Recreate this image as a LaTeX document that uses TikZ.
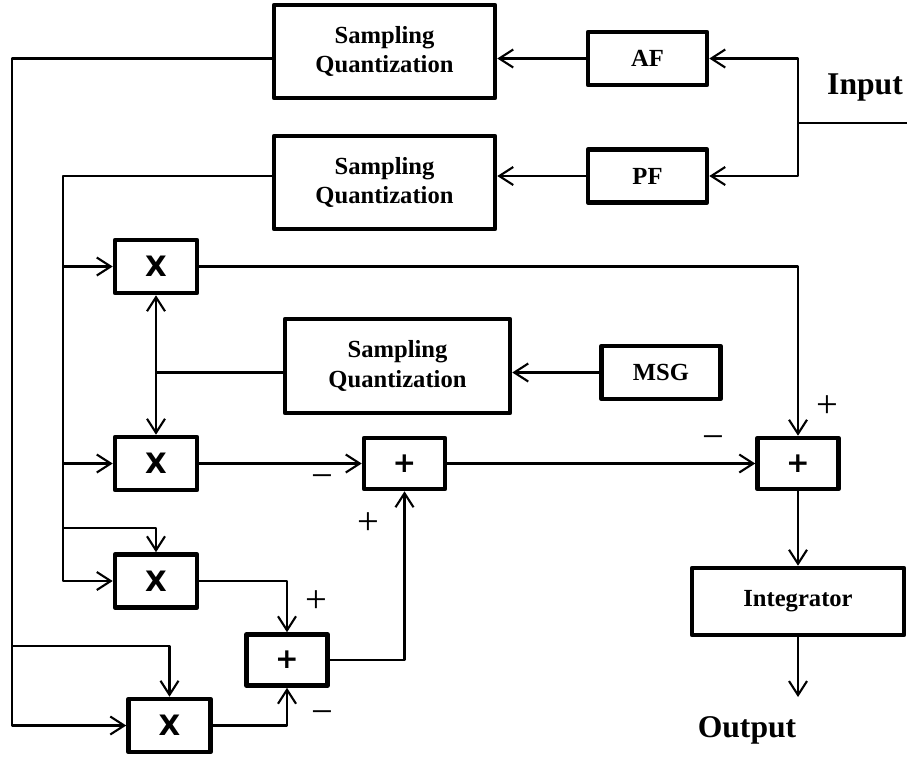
\documentclass[tikz,border=0pt]{standalone}
\usepackage{fontspec}
\setmainfont{Liberation Serif}
\newfontfamily\opfont{DejaVu Sans}
\usetikzlibrary{arrows.meta,positioning}

\begin{document}
\begin{tikzpicture}[node distance=2cm, on grid, >={Straight Barb[length=2.8mm,width=3.6mm]},
                      line width=1.2pt, line join=round, text centered]
    \tikzstyle{block} = [rectangle, draw=black, line width=2.6pt, inner sep=0pt,
                         font=\fontsize{14}{17}\selectfont\bfseries, align=center]
    \tikzstyle{sampler} = [block, minimum width=4.42cm, minimum height=1.86cm]
    \tikzstyle{filter} = [block, minimum width=2.38cm, minimum height=1.06cm]
    \tikzstyle{mult} = [block, minimum width=1.64cm, minimum height=1.06cm,
                        font=\opfont\fontsize{16}{16}\selectfont\bfseries]
    \tikzstyle{adder} = [block, minimum width=1.62cm, minimum height=1.02cm,
                         font=\opfont\fontsize{16}{16}\selectfont\bfseries]
    \tikzstyle{sign} = [inner sep=0pt, font=\fontsize{22}{22}\selectfont]
    \tikzstyle{iolabel} = [inner sep=0pt, font=\fontsize{18}{18}\selectfont\bfseries]

    \useasboundingbox (0,0) rectangle (18.14,-15.12);

    \node (sq1)  [sampler] at (7.69,-1.03) {Sampling\\Quantization};
    \node (af)   [filter, right=5.26 of sq1, yshift=-0.14cm] {AF};
    \node (sq2)  [sampler, below=2.62 of sq1] {Sampling\\Quantization};
    \node (pf)   [filter, below=2.35 of af] {PF};
    \node (mul1) [mult, below left=1.68 and 4.57 of sq2] {X};
    \node (mul2) [mult, below=3.94 of mul1] {X};
    \node (mul3) [mult, below=2.35 of mul2] {X};
    \node (mul4) [mult, below right=2.89 and 0.27 of mul3] {X};
    \node (sq3)  [sampler, below right=3.67 and 0.26 of sq2, minimum width=4.5cm,
                  minimum height=1.88cm] {Sampling\\Quantization};
    \node (msg)  [filter, right=5.27 of sq3, yshift=-0.13cm] {MSG};
    \node (sum1) [adder, right=4.97 of mul2] {+};
    \node (sum2) [adder, right=7.87 of sum1] {+};
    \node (sum3) [adder, below right=1.58 and 2.62 of mul3] {+};
    \node (integ) [block, below=2.76 of sum2, minimum width=4.24cm,
                   minimum height=1.34cm] {Integrator};

    \coordinate (inp) at (18.14,-2.46);
    \coordinate[left=2.18 of inp] (split);
    \node (input) [iolabel, below right=0.59 and 4.35 of af] {Input};
    \coordinate[left=3.15 of mul4] (lbus);
    \coordinate[above=1.59 of lbus] (tap4);
    \coordinate[left=1.86 of mul3] (rbus);
    \coordinate[above=1.06 of rbus] (tap3);
    \coordinate (jn) at (mul1 |- msg);
    \coordinate[below=1.91 of integ] (outp);
    \node (output) [iolabel, below left=2.57 and 1.02 of integ] {Output};

    \node (s1m) [sign, below left=0.36 and 1.65 of sum1] {−};
    \node (s1p) [sign, below left=1.2 and 0.73 of sum1] {+};
    \node (s2p) [sign, above right=1.14 and 0.58 of sum2] {+};
    \node (s2m) [sign, above left=0.42 and 1.7 of sum2] {−};
    \node (s3p) [sign, above right=1.16 and 0.58 of sum3] {+};
    \node (s3m) [sign, below right=1.16 and 0.7 of sum3] {−};

    \draw (inp) -- (split);
    \draw [->] (split) |- (af);
    \draw [->] (split) |- (pf);
    \draw [->] (af) -- (af -| sq1.east);
    \draw [->] (pf) -- (pf -| sq2.east);
    \draw [->] (msg) -- (msg -| sq3.east);
    \draw [->] (sq1.west |- af) -| (lbus) -- (mul4);
    \draw [->] (tap4) -| (mul4);
    \draw [->] (sq2.west |- pf) -| (rbus) -- (mul3);
    \draw [->] (tap3) -| (mul3);
    \draw [->] (rbus |- mul1) -- (mul1);
    \draw [->] (rbus |- mul2) -- (mul2);
    \draw (sq3.west |- msg) -- (jn);
    \draw [<->] (mul1) -- (mul2);
    \draw [->] (mul1) -| (sum2);
    \draw [->] (mul2) -- (sum1);
    \draw [->] (sum1) -- (sum2);
    \draw [->] (mul3) -| (sum3);
    \draw [->] (mul4) -| (sum3);
    \draw [->] (sum3) -| (sum1);
    \draw [->] (sum2) -- (integ);
    \draw [->] (integ) -- (outp);
\end{tikzpicture}
\end{document}
